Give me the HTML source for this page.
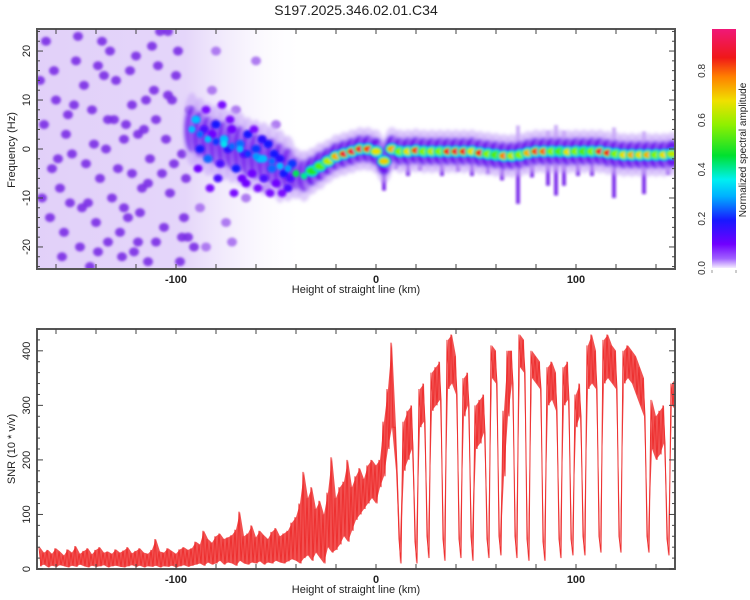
<!DOCTYPE html>
<html><head><meta charset="utf-8"><style>
html,body{margin:0;padding:0;background:#fff;}
svg{display:block;font-family:"Liberation Sans",sans-serif;}
</style></head><body>
<svg id="fig" width="750" height="600" viewBox="0 0 750 600" xmlns="http://www.w3.org/2000/svg">
<defs>
<filter id="soft" x="-50%" y="-50%" width="200%" height="200%"><feGaussianBlur stdDeviation="1.2"/></filter>
<filter id="soft2" x="-50%" y="-50%" width="200%" height="200%"><feGaussianBlur stdDeviation="1.8"/></filter>
<linearGradient id="cbar" x1="0" y1="1" x2="0" y2="0">
<stop offset="0" stop-color="#f4ecff"/><stop offset="0.04" stop-color="#a060ff"/><stop offset="0.1" stop-color="#7000ff"/>
<stop offset="0.2" stop-color="#1818ff"/><stop offset="0.3" stop-color="#00b0ff"/><stop offset="0.37" stop-color="#00f0f0"/>
<stop offset="0.47" stop-color="#00e030"/><stop offset="0.6" stop-color="#90f000"/><stop offset="0.7" stop-color="#f0e000"/>
<stop offset="0.8" stop-color="#ff8000"/><stop offset="0.88" stop-color="#f01818"/><stop offset="1" stop-color="#f01878"/>
</linearGradient>
<linearGradient id="wash" x1="0" y1="0" x2="1" y2="0">
<stop offset="0" stop-color="#dcc8f8" stop-opacity="0.85"/><stop offset="0.55" stop-color="#dcc8f8" stop-opacity="0.75"/>
<stop offset="0.75" stop-color="#e8dcfa" stop-opacity="0.4"/><stop offset="1" stop-color="#ffffff" stop-opacity="0"/>
</linearGradient>
<clipPath id="clipTop"><rect x="37" y="29" width="638" height="240"/></clipPath>
<clipPath id="clipBot"><rect x="37" y="329" width="638" height="240"/></clipPath>
</defs>
<text x="356" y="15" font-size="14" text-anchor="middle" fill="#222">S197.2025.346.02.01.C34</text>
<g id="topPanel"></g>
<g id="botPanel"></g>
<g id="cbPanel"></g>
</svg>
<script>
// ---- spectrogram data ----
const ridgeH = [-92,-88,-84,-80,-76,-72,-68,-64,-60,-56,-52,-48,-44,-40,-36,-32,-28,-24,-20,-16,-12,-8,-4,0,4,8,12,16,20,24,28,32,36,40,44,48,52,56,60,64,68,72,76,80,84,88,92,96,100,104,108,112,116,120,124,128,132,136,140,144,148];
const ridgeF = [4,3,2,1.5,1,0.5,0,-1,-1.5,-2,-2.5,-3.5,-4,-5,-5.5,-4.5,-3.5,-2.5,-1.5,-1,-0.5,0,0,-0.5,-2.5,0,-0.5,-0.5,-0.3,-0.5,-0.5,-0.5,-0.5,-0.5,-0.5,-0.5,-0.8,-1,-1.2,-1.4,-1.4,-1.2,-0.8,-0.5,-0.5,-0.5,-0.5,-0.6,-0.5,-0.5,-0.5,-0.5,-0.8,-1,-1.2,-1.2,-1.2,-1.2,-1.2,-1.2,-1];
const ridgeAmp = [0.3,0.25,0.3,0.22,0.35,0.25,0.3,0.22,0.28,0.3,0.25,0.3,0.28,0.45,0.42,0.5,0.55,0.65,0.75,0.9,0.92,0.9,0.85,0.7,0.72,0.75,0.6,0.7,0.85,0.6,0.65,0.6,0.88,0.9,0.88,0.7,0.88,0.6,0.55,0.8,0.65,0.6,0.75,0.85,0.82,0.6,0.55,0.7,0.6,0.55,0.6,0.9,0.88,0.6,0.7,0.75,0.7,0.75,0.6,0.7,0.65];
const ridgeSpread = [5,5,5,5,5,5,5,5,5,5,5,5,4.5,3.5,3.5,3.2,3.2,3,3,3,3,3,3,3,3,3,3,3,3,3,3,3,3,3,3,3,3,3,3,3,3,3,3,3,3,3,3,3,3,3,3,3,3,3,3,3,3,3,3,3,3];
const scatterH = [-90,-88,-86,-84,-82,-80,-78,-76,-74,-72,-70,-68,-66,-64,-62,-60,-58,-56,-54,-52,-50,-48,-46,-44,-42,-89,-85,-79,-73,-67,-61,-57,-51,-47,-43,-83,-77,-71,-65,-59,-53];
const scatterF = [6,0,4,-2,3,5,-3,2,0,4,-4,1,-1,3,-5,0,-2,-6,1,-4,-7,-2,-5,-8,-3,-4,8,-6,6,-6,4,2,-1,-9,-6,-8,9,-9,-7,-8,-9];
const scatterAmp = [0.3,0.2,0.15,0.25,0.12,0.2,0.15,0.3,0.18,0.12,0.2,0.25,0.15,0.2,0.12,0.22,0.3,0.15,0.2,0.25,0.12,0.18,0.2,0.15,0.22,0.12,0.1,0.15,0.1,0.12,0.1,0.18,0.2,0.1,0.15,0.1,0.1,0.1,0.12,0.1,0.1];
const streakH = [4,10,16,22,33,41,48,56,63,71,78,86,90,94,101,108,119,134,146];
const streakLen = [6,4,5,4,5,4,5,4,5,10,5,7,9,7,5,5,9,8,4];
const noiseH = [-165,-160,-158,-155,-150,-148,-145,-142,-140,-137,-135,-132,-130,-127,-125,-122,-120,-118,-115,-113,-110,-108,-105,-103,-100,-98,-96,-93,-163,-152,-146,-138,-128,-123,-117,-111,-106,-101,-166,-157,-143,-133,-121,-112,-99,-95,-88,-85,-82,-75,-70,-65,-60,-55,-50,-162,-154,-136,-126,-114,-104,-97,-144,-131,-119,-109,
-167,-161,-156,-151,-147,-141,-139,-134,-129,-124,-119,-116,-107,-102,-94,-159,-149,-139,-126,-114,-104,-168,-153,-134,-122,-110,-97,-91,-80,-72];
const noiseF = [22,10,-8,3,18,-20,-3,8,-15,22,0,-10,14,-22,5,-5,19,-13,10,-2,-19,24,2,-9,15,-23,-14,8,-14,-1,13,-6,-17,16,-8,12,-16,-3,5,-22,-24,20,-21,21,20,-6,-12,-20,12,-15,8,-10,18,-8,5,-4,7,15,-12,-7,11,-18,-11,6,3,17,
-10,16,-17,9,-12,1,17,6,-4,-14,-19,4,-5,10,-18,-2,23,-21,2,-23,24,14,-11,-19,9,6,-1,-20,20,-19];
// ---- SNR data (2 km bins) ----
const snrStart = -168;
const snrMax = [40,30,35,28,38,32,25,36,30,42,28,33,38,27,35,40,30,32,28,36,30,34,40,29,33,38,30,28,35,55,32,30,38,33,28,36,40,35,38,
50,45,70,55,48,60,65,55,58,62,72,105,60,65,80,58,70,62,55,68,75,60,65,70,85,
95,120,178,130,150,110,125,100,140,205,130,150,160,200,150,170,185,165,190,200,
190,200,270,330,415,260,55,270,290,300,50,330,340,60,360,370,380,55,420,430,390,55,350,360,60,300,310,320,55,410,400,60,290,400,400,60,430,420,55,400,390,380,50,370,380,360,55,370,380,55,320,340,60,410,430,400,60,420,430,410,400,60,400,410,400,390,370,350,60,310,280,290,300,55,340,350];
const snrMin = [5,8,3,6,4,7,5,3,6,4,8,5,3,6,4,5,7,3,5,6,4,3,5,7,4,6,3,5,4,6,3,5,4,6,3,5,7,4,6,
8,10,6,12,8,10,15,8,12,10,6,15,10,8,12,10,14,8,12,10,15,12,10,14,18,
15,10,20,25,15,30,20,10,40,30,35,45,60,50,70,90,100,110,120,130,
120,150,170,220,260,180,10,180,200,220,10,260,270,20,290,300,310,15,330,340,320,20,280,300,15,220,230,250,20,350,340,25,170,280,340,20,370,360,15,350,340,330,15,300,310,290,20,300,310,25,260,280,25,330,340,330,30,340,350,340,330,30,340,350,340,320,300,280,30,220,200,210,230,25,300,290];

const NS='http://www.w3.org/2000/svg';
function mk(tag, attrs, parent){const e=document.createElementNS(NS,tag);for(const k in attrs)e.setAttribute(k,attrs[k]);parent.appendChild(e);return e;}
const X0=37,X1=675,HMIN=-169.5,HMAX=149.5;
const xs=h=>X0+(h-HMIN)/(HMAX-HMIN)*(X1-X0);
const T0=29,T1=269,FMAX=24.5,FMIN=-24.5;
const yf=f=>T0+(FMAX-f)/(FMAX-FMIN)*(T1-T0);
const B0=329,B1=569,SMAX=440,SMIN=0;
const ys=v=>B1-(v-SMIN)/(SMAX-SMIN)*(B1-B0);

const cstops=[[0,[240,228,255]],[0.05,[150,60,255]],[0.12,[110,0,255]],[0.2,[20,20,255]],[0.3,[0,190,255]],[0.37,[0,245,235]],[0.47,[0,225,50]],[0.6,[140,245,0]],[0.7,[235,225,0]],[0.8,[255,130,0]],[0.88,[245,25,25]],[1,[240,20,120]]];
function cmap(a){for(let i=1;i<cstops.length;i++){if(a<=cstops[i][0]){const [a0,c0]=cstops[i-1],[a1,c1]=cstops[i];const t=(a-a0)/(a1-a0);return 'rgb('+c0.map((c,j)=>Math.round(c+(c1[j]-c)*t)).join(',')+')';}}return 'rgb(240,20,120)';}

// ---- top panel ----
const topP=document.getElementById('topPanel');
const tg=mk('g',{'clip-path':'url(#clipTop)'},topP);
mk('rect',{x:X0,y:T0,width:xs(-35)-X0,height:T1-T0,fill:'url(#wash)'},tg);
const noiseG=mk('g',{filter:'url(#soft)'},tg);


for(let i=0;i<noiseH.length;i++){
  const b=mk('ellipse',{cx:xs(noiseH[i]),cy:yf(noiseF[i]),rx:5,ry:4.5,fill:noiseH[i]>-90?'#a66ef0':'#7a2ee6','fill-opacity':0.9},noiseG);
  
  
}
const stG=mk('g',{filter:'url(#soft)'},tg);
for(let i=0;i<streakH.length;i++){
  let k=0,best=1e9;ridgeH.forEach((h,j)=>{const d=Math.abs(h-streakH[i]);if(d<best){best=d;k=j;}});
  const f=ridgeF[k];
  const s=mk('rect',{x:xs(streakH[i])-2,y:yf(f),width:4,height:yf(f-streakLen[i])-yf(f),fill:'#6a10e8','fill-opacity':0.85},stG);
  
  
  const u=mk('rect',{x:xs(streakH[i])-2,y:yf(f+streakLen[i]*0.6),width:4,height:yf(f)-yf(f+streakLen[i]*0.6),fill:'#b890f4','fill-opacity':0.7},stG);
  
  
}
const haloG=mk('g',{filter:'url(#soft2)'},tg);
const scG=mk('g',{filter:'url(#soft)'},tg);
const coreG=mk('g',{filter:'url(#soft)'},tg);
const pxHz=(T1-T0)/(FMAX-FMIN);
for(let i=0;i<ridgeH.length;i++){
  const cx=xs(ridgeH[i]),cy=yf(ridgeF[i]),sp=ridgeSpread[i];
  const o=mk('ellipse',{cx:cx,cy:cy,rx:9,ry:sp*pxHz*1.5,fill:'#c8a8f8','fill-opacity':0.6},haloG);
  
  
  const h=mk('ellipse',{cx:cx,cy:cy,rx:8,ry:sp*pxHz*0.95,fill:'#6a10ee','fill-opacity':sp>3.3?0.7:0.95},haloG);
  
  
}
for(let i=0;i<scatterH.length;i++){
  const b=mk('ellipse',{cx:xs(scatterH[i]),cy:yf(scatterF[i]),rx:4.5,ry:4,fill:cmap(scatterAmp[i])},scG);
  
  
}
for(let i=0;i<ridgeH.length;i++){
  const cx=xs(ridgeH[i]),cy=yf(ridgeF[i]);
  const a=ridgeAmp[i];
  if(a>0.45){
    const r=mk('ellipse',{cx:cx,cy:cy,rx:7,ry:6,fill:cmap(0.33)},coreG);
    
    
    const g=mk('ellipse',{cx:cx,cy:cy,rx:6,ry:4.2,fill:cmap(0.5)},coreG);
    
    
  }
  const c=mk('ellipse',{cx:cx,cy:cy,rx:a>0.45?4.5:3.5,ry:a>0.45?3:3.5,fill:cmap(a)},coreG);
  
  
}
mk('rect',{x:X0,y:T0,width:X1-X0,height:T1-T0,fill:'none',stroke:'#555','stroke-width':2},topP);
function ticksX(parent,y0,y1){
  for(let h=-160;h<=140;h+=20){
    const x=xs(h);
    mk('line',{x1:x,y1:y1,x2:x,y2:y1-5,stroke:'#444','stroke-width':1},parent);
    mk('line',{x1:x,y1:y0,x2:x,y2:y0+5,stroke:'#444','stroke-width':1},parent);
    if(h%100===0){const t=mk('text',{x:x,y:y1+14,'font-size':11,'font-weight':'bold','text-anchor':'middle',fill:'#222'},parent);t.textContent=String(h);
      
      }
  }
  const l=mk('text',{x:356,y:y1+24,'font-size':11,'text-anchor':'middle',fill:'#222'},parent);l.textContent='Height of straight line (km)';
  
  
}
ticksX(topP,T0,T1);
for(let f=-24;f<=24;f+=2){
  const y=yf(f);const L=f%10===0?6:3;
  mk('line',{x1:X0,y1:y,x2:X0+L,y2:y,stroke:'#444'},topP);
  mk('line',{x1:X1,y1:y,x2:X1-L,y2:y,stroke:'#444'},topP);
  if(f%10===0){const t=mk('text',{x:0,y:0,'font-size':11,'text-anchor':'middle',fill:'#222',transform:`translate(30,${y}) rotate(-90)`},topP);t.textContent=String(f);
    
    }
}
const yl=mk('text',{x:0,y:0,'font-size':11,'text-anchor':'middle',fill:'#222',transform:'translate(15,150) rotate(-90)'},topP);yl.textContent='Frequency (Hz)';



// ---- bottom panel ----
const botP=document.getElementById('botPanel');
const bg=mk('g',{'clip-path':'url(#clipBot)'},botP);
let up='',dn='',zz='';
const nS=Math.min(snrMax.length,snrMin.length);
for(let i=0;i<nS;i++){
  const h=snrStart+2*i;
  up+=(i?'L':'M')+xs(h).toFixed(1)+','+ys(snrMax[i]).toFixed(1);
  zz+=(i?'L':'M')+(xs(h)-1).toFixed(1)+','+ys(snrMax[i]).toFixed(1)+'L'+(xs(h)+1).toFixed(1)+','+ys(snrMin[i]).toFixed(1);
}
for(let i=nS-1;i>=0;i--){const h=snrStart+2*i;dn+='L'+xs(h).toFixed(1)+','+ys(snrMin[i]).toFixed(1);}
const area=mk('path',{d:up+dn+'Z',fill:'#ee3333','fill-opacity':0.85,stroke:'none'},bg);


const line=mk('path',{d:zz,fill:'none',stroke:'#ee3030','stroke-width':1},bg);


mk('rect',{x:X0,y:B0,width:X1-X0,height:B1-B0,fill:'none',stroke:'#555','stroke-width':2},botP);
ticksX(botP,B0,B1);
for(let v=0;v<=440;v+=20){
  const y=ys(v);const L=v%100===0?6:3;
  mk('line',{x1:X0,y1:y,x2:X0+L,y2:y,stroke:'#444'},botP);
  mk('line',{x1:X1,y1:y,x2:X1-L,y2:y,stroke:'#444'},botP);
  if(v%100===0){const t=mk('text',{x:0,y:0,'font-size':11,'text-anchor':'middle',fill:'#222',transform:`translate(30,${y}) rotate(-90)`},botP);t.textContent=String(v);
    
    }
}
const yl2=mk('text',{x:0,y:0,'font-size':11,'text-anchor':'middle',fill:'#222',transform:'translate(15,449) rotate(-90)'},botP);yl2.textContent='SNR (10 * v/v)';



// ---- colorbar ----
const cbP=document.getElementById('cbPanel');
const C0=29,C1=268,CMAX=0.97;
const yc=v=>C1-v/CMAX*(C1-C0);
mk('rect',{x:712,y:C0,width:24,height:C1-C0,fill:'url(#cbar)'},cbP);
mk('line',{x1:712,y1:270,x2:712,y2:273,stroke:'#999'},cbP);
mk('line',{x1:736,y1:270,x2:736,y2:273,stroke:'#999'},cbP);
[0,0.2,0.4,0.6,0.8].forEach(v=>{
  const t=mk('text',{x:0,y:0,'font-size':10,'text-anchor':'middle',fill:'#333',transform:`translate(705,${yc(v)}) rotate(-90)`},cbP);t.textContent=v.toFixed(1);
  
  
});
const cl=mk('text',{x:0,y:0,'font-size':10,'text-anchor':'middle',fill:'#222',transform:'translate(746,150) rotate(-90)'},cbP);cl.textContent='Normalized spectral amplitude';


</script>
</body></html>
